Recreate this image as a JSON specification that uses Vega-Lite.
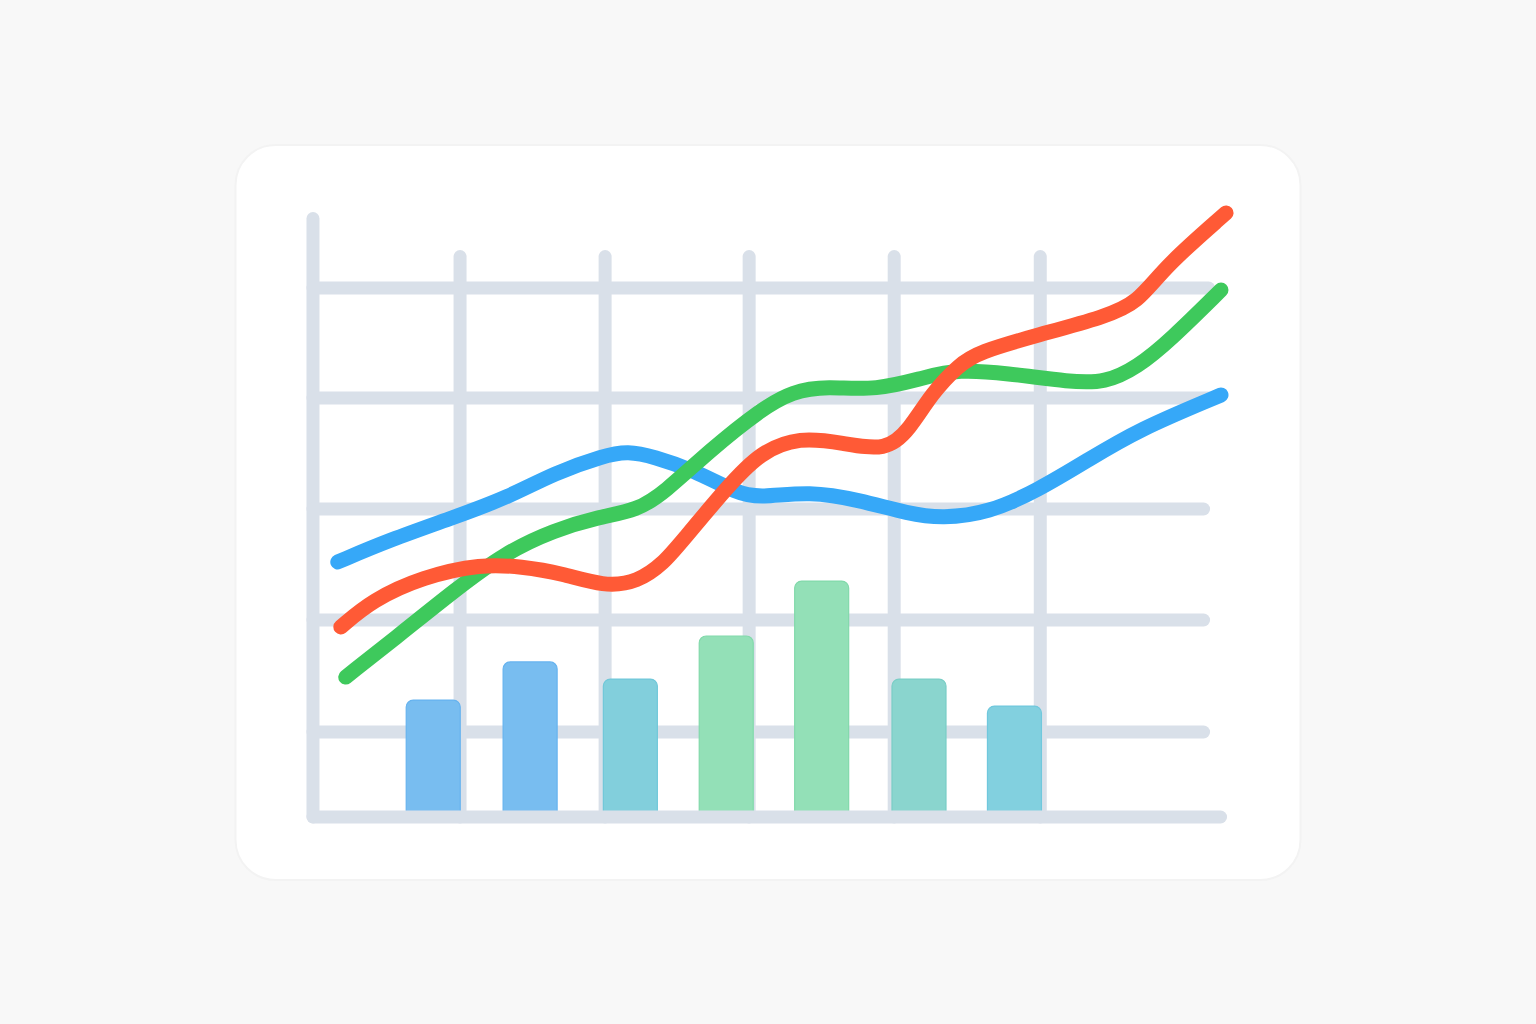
{
  "$schema": "https://vega.github.io/schema/vega-lite/v6.json",
  "width": 1536,
  "height": 1024,
  "padding": 0,
  "autosize": {"type": "none"},
  "background": "#f8f8f8",
  "view": {"stroke": null},
  "datasets": {
    "card": [{"x0": -0.534, "x1": 6.808, "y0": -0.333, "y1": 6.288}],
    "vgrid": [
      {"x": 0, "y0": 0.234, "y1": 5.626},
      {"x": 1.014, "y0": 0.234, "y1": 5.284},
      {"x": 2.014, "y0": 0.234, "y1": 5.284},
      {"x": 3.007, "y0": 0.234, "y1": 5.284},
      {"x": 4.007, "y0": 0.234, "y1": 5.284},
      {"x": 5.014, "y0": 0.234, "y1": 5.284}
    ],
    "hgrid": [
      {"y": 5.0, "x0": 0, "x1": 6.175},
      {"y": 4.009, "x0": 0, "x1": 6.175},
      {"y": 3.009, "x0": 0, "x1": 6.14},
      {"y": 2.009, "x0": 0, "x1": 6.14},
      {"y": 1.0, "x0": 0, "x1": 6.14}
    ],
    "baseline": [{"y": 0.234, "x0": 0, "x1": 6.257}],
    "bars": [
      {"k": "b1", "x": 0.829, "v": 1.288},
      {"k": "b2", "x": 1.497, "v": 1.631},
      {"k": "b3", "x": 2.188, "v": 1.477},
      {"k": "b4", "x": 2.849, "v": 1.865},
      {"k": "b5", "x": 3.507, "v": 2.36},
      {"k": "b6", "x": 4.178, "v": 1.477},
      {"k": "b7", "x": 4.836, "v": 1.234}
    ],
    "lines": [
      {"s": "blue", "x": 0.171, "y": 2.532},
      {"s": "blue", "x": 0.527, "y": 2.73},
      {"s": "blue", "x": 0.979, "y": 2.937},
      {"s": "blue", "x": 1.349, "y": 3.117},
      {"s": "blue", "x": 1.664, "y": 3.333},
      {"s": "blue", "x": 2.007, "y": 3.49},
      {"s": "blue", "x": 2.171, "y": 3.53},
      {"s": "blue", "x": 2.349, "y": 3.48},
      {"s": "blue", "x": 2.623, "y": 3.36},
      {"s": "blue", "x": 2.925, "y": 3.15},
      {"s": "blue", "x": 3.082, "y": 3.11},
      {"s": "blue", "x": 3.425, "y": 3.17},
      {"s": "blue", "x": 3.767, "y": 3.09},
      {"s": "blue", "x": 4.11, "y": 2.965},
      {"s": "blue", "x": 4.336, "y": 2.925},
      {"s": "blue", "x": 4.658, "y": 2.973},
      {"s": "blue", "x": 5.0, "y": 3.18},
      {"s": "blue", "x": 5.342, "y": 3.45},
      {"s": "blue", "x": 5.685, "y": 3.721},
      {"s": "blue", "x": 6.26, "y": 4.036},
      {"s": "green", "x": 0.226, "y": 1.495},
      {"s": "green", "x": 0.637, "y": 1.919},
      {"s": "green", "x": 0.979, "y": 2.279},
      {"s": "green", "x": 1.322, "y": 2.613},
      {"s": "green", "x": 1.664, "y": 2.82},
      {"s": "green", "x": 1.966, "y": 2.935},
      {"s": "green", "x": 2.24, "y": 3.0},
      {"s": "green", "x": 2.418, "y": 3.153},
      {"s": "green", "x": 2.74, "y": 3.541},
      {"s": "green", "x": 3.082, "y": 3.901},
      {"s": "green", "x": 3.308, "y": 4.07},
      {"s": "green", "x": 3.541, "y": 4.115},
      {"s": "green", "x": 3.884, "y": 4.075},
      {"s": "green", "x": 4.226, "y": 4.2},
      {"s": "green", "x": 4.452, "y": 4.265},
      {"s": "green", "x": 4.774, "y": 4.234},
      {"s": "green", "x": 5.226, "y": 4.153},
      {"s": "green", "x": 5.459, "y": 4.145},
      {"s": "green", "x": 5.685, "y": 4.288},
      {"s": "green", "x": 5.911, "y": 4.532},
      {"s": "green", "x": 6.26, "y": 4.982},
      {"s": "red", "x": 0.192, "y": 1.946},
      {"s": "red", "x": 0.411, "y": 2.189},
      {"s": "red", "x": 0.753, "y": 2.396},
      {"s": "red", "x": 1.164, "y": 2.515},
      {"s": "red", "x": 1.438, "y": 2.49},
      {"s": "red", "x": 1.712, "y": 2.432},
      {"s": "red", "x": 2.007, "y": 2.31},
      {"s": "red", "x": 2.24, "y": 2.351},
      {"s": "red", "x": 2.418, "y": 2.523},
      {"s": "red", "x": 2.534, "y": 2.703},
      {"s": "red", "x": 2.856, "y": 3.207},
      {"s": "red", "x": 3.082, "y": 3.52},
      {"s": "red", "x": 3.356, "y": 3.66},
      {"s": "red", "x": 3.651, "y": 3.604},
      {"s": "red", "x": 3.952, "y": 3.53},
      {"s": "red", "x": 4.11, "y": 3.721},
      {"s": "red", "x": 4.267, "y": 4.054},
      {"s": "red", "x": 4.452, "y": 4.306},
      {"s": "red", "x": 4.589, "y": 4.423},
      {"s": "red", "x": 5.0, "y": 4.577},
      {"s": "red", "x": 5.459, "y": 4.74},
      {"s": "red", "x": 5.685, "y": 4.865},
      {"s": "red", "x": 5.87, "y": 5.189},
      {"s": "red", "x": 6.295, "y": 5.676}
    ]
  },
  "layer": [
    {
      "data": {"name": "card"},
      "mark": {"type": "rect", "fill": "#ffffff", "cornerRadius": 40, "stroke": "#f3f3f3", "strokeWidth": 2},
      "encoding": {
        "x": {"field": "x0", "type": "quantitative", "axis": null, "scale": {"domain": [-2.12329, 8.39726], "nice": false, "zero": false}},
        "x2": {"field": "x1"},
        "y": {"field": "y0", "type": "quantitative", "axis": null, "scale": {"domain": [-1.63063, 7.59459], "nice": false, "zero": false}},
        "y2": {"field": "y1"}
      }
    },
    {
      "data": {"name": "vgrid"},
      "mark": {"type": "rule", "color": "#d9e0e9", "strokeWidth": 13, "strokeCap": "round"},
      "encoding": {
        "x": {"field": "x", "type": "quantitative"},
        "y": {"field": "y0", "type": "quantitative"},
        "y2": {"field": "y1"}
      }
    },
    {
      "data": {"name": "hgrid"},
      "mark": {"type": "rule", "color": "#d9e0e9", "strokeWidth": 13, "strokeCap": "round"},
      "encoding": {
        "y": {"field": "y", "type": "quantitative"},
        "x": {"field": "x0", "type": "quantitative"},
        "x2": {"field": "x1"}
      }
    },
    {
      "data": {"name": "bars"},
      "mark": {"type": "bar", "width": 54, "cornerRadiusTopLeft": 7, "cornerRadiusTopRight": 7, "strokeWidth": 1.2},
      "encoding": {
        "x": {"field": "x", "type": "quantitative"},
        "y": {"field": "v", "type": "quantitative"},
        "y2": {"datum": 0.234},
        "fill": {"field": "k", "type": "nominal", "legend": null, "scale": {"domain": ["b1","b2","b3","b4","b5","b6","b7"], "range": ["#78bdf0","#78bdf0","#82cfdc","#93e0b7","#93e0b7","#8ad5ce","#82d0df"]}},
        "stroke": {"field": "k", "type": "nominal", "legend": null, "scale": {"domain": ["b1","b2","b3","b4","b5","b6","b7"], "range": ["#66b3ef","#66b3ef","#70c8d9","#82d9ab","#82d9ab","#7acec6","#70c8dd"]}}
      }
    },
    {
      "data": {"name": "baseline"},
      "mark": {"type": "rule", "color": "#d9e0e9", "strokeWidth": 13, "strokeCap": "round"},
      "encoding": {
        "y": {"field": "y", "type": "quantitative"},
        "x": {"field": "x0", "type": "quantitative"},
        "x2": {"field": "x1"}
      }
    },
    {
      "data": {"name": "lines"},
      "mark": {"type": "line", "interpolate": "basis", "strokeWidth": 15, "strokeCap": "round", "strokeJoin": "round"},
      "encoding": {
        "x": {"field": "x", "type": "quantitative"},
        "y": {"field": "y", "type": "quantitative"},
        "detail": {"field": "s"},
        "stroke": {"field": "s", "type": "nominal", "legend": null, "scale": {"domain": ["blue","green","red"], "range": ["#36a8f8","#3ec95c","#ff5a36"]}}
      }
    }
  ],
  "resolve": {"scale": {"stroke": "independent", "fill": "independent", "color": "independent"}}
}
